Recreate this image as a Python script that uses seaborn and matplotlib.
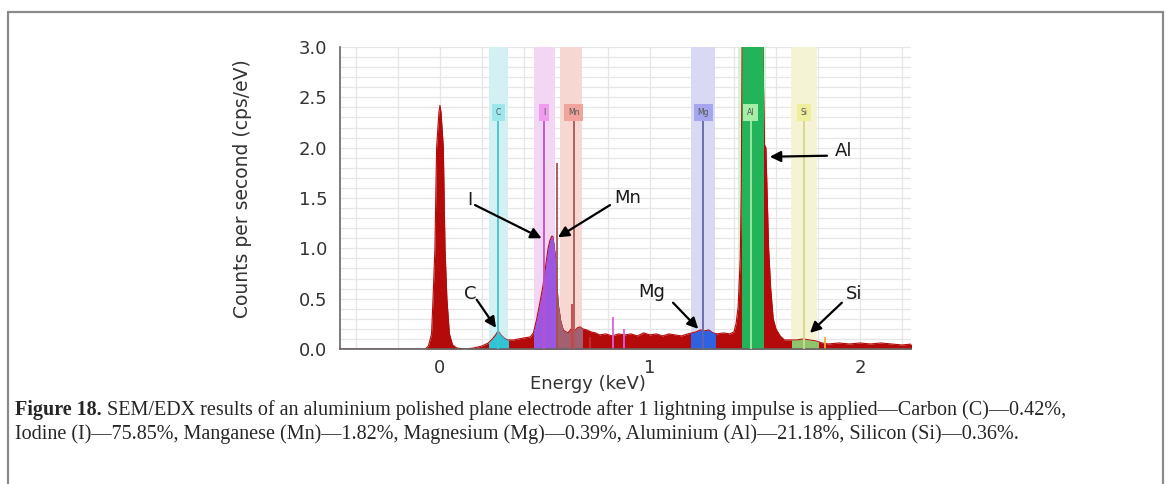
import matplotlib
matplotlib.use("Agg")
import matplotlib.pyplot as plt
from matplotlib.patches import Rectangle
from matplotlib.lines import Line2D
from matplotlib.ticker import MultipleLocator, FixedLocator, FormatStrFormatter
import pandas as pd
import seaborn as sns

sns.set_style("white")
plt.rcParams["font.family"] = ["DejaVu Sans"]

# ── spectrum (keV, cps/eV) ──────────────────────────────────────────────
ENERGY = [-0.48, -0.07, -0.055, -0.04, -0.033, -0.024, -0.016, -0.005, 0.0,
          0.005, 0.016, 0.024, 0.033, 0.045, 0.06, 0.08, 0.12, 0.16, 0.2,
          0.23, 0.25, 0.265, 0.277, 0.29, 0.305, 0.32, 0.35, 0.375, 0.40,
          0.43, 0.445, 0.46, 0.475, 0.49, 0.505, 0.515, 0.524, 0.532, 0.537,
          0.542, 0.548, 0.555, 0.563, 0.575, 0.587, 0.60, 0.61, 0.625, 0.64,
          0.655, 0.667, 0.68, 0.698, 0.72, 0.74, 0.76, 0.79, 0.82, 0.85,
          0.88, 0.91, 0.94, 0.97, 1.0, 1.03, 1.06, 1.09, 1.12, 1.15, 1.18,
          1.2, 1.22, 1.24, 1.26, 1.28, 1.3, 1.32, 1.35, 1.38, 1.40, 1.41,
          1.42, 1.43, 1.435, 1.44, 1.535, 1.545, 1.552, 1.556, 1.565, 1.575,
          1.587, 1.60, 1.62, 1.64, 1.67, 1.70, 1.73, 1.76, 1.79, 1.82, 1.85,
          1.9, 1.95, 2.0, 2.05, 2.1, 2.15, 2.2, 2.25]
COUNTS = [0.0, 0.0, 0.03, 0.15, 0.5, 1.0, 2.0, 2.35, 2.42,
          2.35, 2.0, 1.0, 0.5, 0.15, 0.04, 0.01, 0.0, 0.01, 0.03,
          0.06, 0.10, 0.14, 0.18, 0.14, 0.11, 0.09, 0.09, 0.10, 0.11,
          0.12, 0.16, 0.29, 0.45, 0.62, 0.85, 1.0, 1.08, 1.12, 1.12,
          1.05, 0.95, 0.72, 0.45, 0.28, 0.19, 0.17, 0.16, 0.20, 0.18,
          0.21, 0.22, 0.20, 0.19, 0.17, 0.16, 0.14, 0.15, 0.13, 0.15,
          0.14, 0.15, 0.13, 0.16, 0.14, 0.15, 0.13, 0.15, 0.14, 0.13, 0.15,
          0.16, 0.17, 0.19, 0.18, 0.19, 0.16, 0.15, 0.16, 0.15, 0.17, 0.25,
          0.42, 0.9, 1.6, 3.4, 3.4, 2.03, 2.0, 1.7, 1.0, 0.6,
          0.3, 0.2, 0.13, 0.09, 0.09, 0.09, 0.10, 0.09, 0.08, 0.06, 0.05,
          0.06, 0.05, 0.06, 0.05, 0.06, 0.05, 0.04, 0.05]

# element markers
ELEMENTS = ["C", "I", "Mn", "Mg", "Al", "Si"]
LINE_KEV = [0.277, 0.495, 0.637, 1.253, 1.48, 1.733]
BAND_LO = [0.232, 0.447, 0.572, 1.195, 1.42, 1.672]
BAND_HI = [0.322, 0.548, 0.675, 1.31, 1.552, 1.797]
FILL_LO = [0.234, 0.45, 0.556, 1.194, 1.438, 1.675]
FILL_HI = [0.324, 0.556, 0.675, 1.31, 1.54, 1.80]

# stray single-channel lines
SPIKE_KEV = [0.557, 0.627, 0.714, 0.822, 0.876, 1.833]
SPIKE_H = [1.85, 0.45, 0.12, 0.32, 0.20, 0.12]

# callouts: label, text pos, arrow tail, arrow tip
NOTE_LABEL = ["C", "I", "Mn", "Mg", "Al", "Si"]
NOTE_TEXT = [(0.143, 0.55), (0.143, 1.48), (0.895, 1.50), (1.01, 0.57), (1.924, 1.97), (1.97, 0.55)]
NOTE_TAIL = [(0.175, 0.49), (0.167, 1.43), (0.81, 1.43), (1.11, 0.46), (1.843, 1.92), (1.914, 0.46)]
NOTE_TIP = [(0.267, 0.21), (0.484, 1.10), (0.562, 1.11), (1.23, 0.20), (1.571, 1.91), (1.762, 0.16)]

RED = "#b50a0a"
FILL_COL = ["#2ec5d6", "#9b57e2", "#a36070", "#2f62e0", "#23b45a", "#90c46c"]
BAND_COL = ["#d3f1f3", "#f3d5f4", "#f6d7d2", "#d9d9f3", "#d5f2d5", "#f4f4d5"]
LINE_COL = ["#45c3cf", "#c64cc6", "#a85858", "#6464aa", "#a6e6a6", "#d6d68c"]
BOX_COL = ["#9de6ec", "#ee9cee", "#f0a49c", "#a6a6ee", "#a6eea6", "#eeee9c"]
SPIKE_COL = ["#a65050", "#d24040", "#c03030", "#e05ce0", "#e05ce0", "#f0b030"]

spec = pd.DataFrame({"Energy": ENERGY, "Counts": COUNTS})
YMAX = 3.0

fig = plt.figure(figsize=(11.7, 4.84), dpi=100)
ax = fig.add_axes([0.2906, 0.2789, 0.488, 0.624])
ax.set_xlim(-0.476, 2.243)
ax.set_ylim(0, YMAX)

# grid
ax.xaxis.set_major_locator(FixedLocator([0, 1, 2]))
ax.xaxis.set_minor_locator(MultipleLocator(0.2))
ax.yaxis.set_major_locator(MultipleLocator(0.5))
ax.yaxis.set_minor_locator(MultipleLocator(0.1))
ax.yaxis.set_major_formatter(FormatStrFormatter("%.1f"))
ax.grid(True, which="both", color="#e6e6e6", lw=0.9, zorder=0.5)
ax.set_axisbelow(True)

# element bands
for lo, hi, c in zip(BAND_LO, BAND_HI, BAND_COL):
    ax.axvspan(lo, hi, color=c, lw=0, zorder=0.8)

# spectrum
ax.fill_between(spec["Energy"], spec["Counts"], color=RED, lw=0, zorder=2)
sns.lineplot(data=spec, x="Energy", y="Counts", ax=ax, color=RED, lw=0.8, zorder=2.1)

for lo, hi, c in zip(FILL_LO, FILL_HI, FILL_COL):
    f = ax.fill_between(spec["Energy"], spec["Counts"], color=c, lw=0, zorder=2.2)
    clip = Rectangle((lo, 0), hi - lo, YMAX, transform=ax.transData)
    f.set_clip_path(clip)

for e, h, c in zip(SPIKE_KEV, SPIKE_H, SPIKE_COL):
    ax.vlines(e, 0, h, color=c, lw=1.3, zorder=2.5)

# element line markers with tag boxes
for el, e, lc, bc in zip(ELEMENTS, LINE_KEV, LINE_COL, BOX_COL):
    ax.vlines(e, 0, 2.33, color=lc, lw=1.3, zorder=2.6)
    ax.text(e, 2.35, el, fontsize=5.5, color="#555555", ha="center", va="center", zorder=3,
            bbox=dict(boxstyle="square,pad=0.5", fc=bc, ec="none"))

# callouts
for lab, t, a, b in zip(NOTE_LABEL, NOTE_TEXT, NOTE_TAIL, NOTE_TIP):
    ax.text(t[0], t[1], lab, fontsize=13, ha="center", va="center", color="#1a1a1a", zorder=5)
    ax.annotate("", xy=b, xytext=a, zorder=5,
                arrowprops=dict(arrowstyle="-|>", color="black", lw=1.6,
                                mutation_scale=16, shrinkA=0, shrinkB=0))

# axes styling
for s in ["top", "right"]:
    ax.spines[s].set_visible(False)
for s in ["left", "bottom"]:
    ax.spines[s].set_color("#666666")
    ax.spines[s].set_linewidth(1.2)
ax.tick_params(which="major", direction="out", length=5, width=1, color="#777777",
               labelsize=13, labelcolor="#333333", pad=4)
ax.tick_params(axis="x", which="major", pad=2)
ax.tick_params(which="minor", direction="out", length=3, width=0.8, color="#888888")
ax.set_xlabel("Energy (keV)", fontsize=13, color="#333333")
ax.set_ylabel("Counts per second (cps/eV)", fontsize=13.5, color="#333333")
ax.xaxis.set_label_coords(0.434, -0.085)
ax.yaxis.set_label_coords(-0.155, 0.53)

# page frame
W, H = 1170, 484
fc = "#8a8a8a"
fig.add_artist(Line2D([8 / W, 8 / W], [0, 1 - 12 / H], color=fc, lw=1.6))
fig.add_artist(Line2D([1163 / W, 1163 / W], [0, 1 - 12 / H], color=fc, lw=1.6))
fig.add_artist(Line2D([8 / W, 1163 / W], [1 - 12 / H, 1 - 12 / H], color=fc, lw=1.6))

# caption
cap_font = ["Liberation Serif", "DejaVu Serif"]
y1 = 1 - 410 / H
y2 = 1 - 434 / H
t0 = fig.text(15 / W, y1, "Figure 18.", family=cap_font, weight="bold", fontsize=14.5,
              va="center", ha="left")
fig.canvas.draw()
bb = t0.get_window_extent()
fig.text(bb.x1 / W, y1,
         " SEM/EDX results of an aluminium polished plane electrode after 1 lightning impulse is "
         "applied\u2014Carbon (C)\u20140.42%,",
         family=cap_font, fontsize=14.5, va="center", ha="left")
fig.text(15 / W, y2,
         "Iodine (I)\u201475.85%, Manganese (Mn)\u20141.82%, Magnesium (Mg)\u20140.39%, "
         "Aluminium (Al)\u201421.18%, Silicon (Si)\u20140.36%.",
         family=cap_font, fontsize=14.5, va="center", ha="left")

fig.savefig("out.png", dpi=100)
